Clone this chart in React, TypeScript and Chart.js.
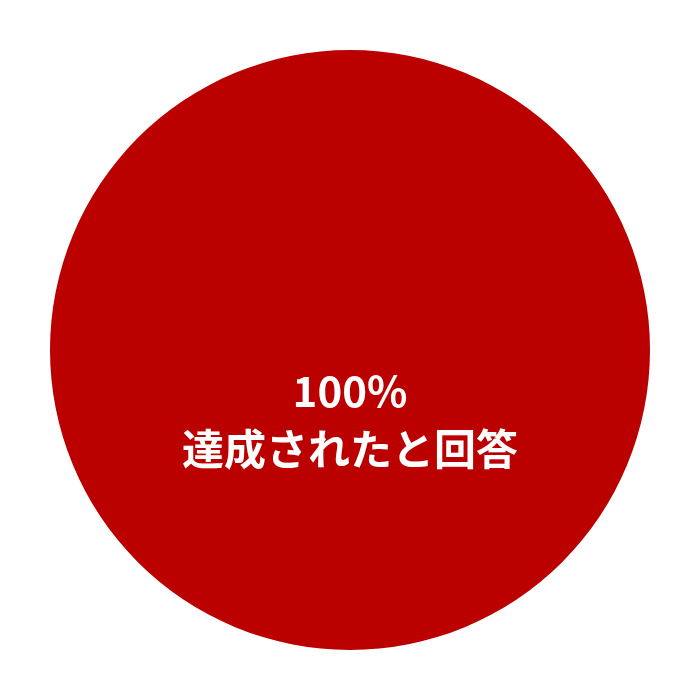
import React, { useEffect, useRef } from 'react';
import Chart from 'chart.js/auto';

const labels = ['達成されたと回答'];
const values = [100];
const colors = ['#BB0000'];
const centerLines = ['100%', '達成されたと回答'];

const centerText = {
  id: 'centerText',
  afterDatasetsDraw(chart: any) {
    const arc = chart.getDatasetMeta(0).data[0];
    if (!arc) return;
    const { ctx } = chart;
    ctx.save();
    ctx.fillStyle = '#ffffff';
    ctx.textAlign = 'center';
    ctx.textBaseline = 'middle';
    ctx.font = 'bold 42px "Noto Sans CJK JP", "Noto Sans", sans-serif';
    ctx.fillText(centerLines[0], arc.x, arc.y + 41);
    ctx.fillText(centerLines[1], arc.x, arc.y + 99);
    ctx.restore();
  }
};

export default function App() {
  const canvasRef = useRef<HTMLCanvasElement | null>(null);

  useEffect(() => {
    document.body.style.margin = '0';
    const ctx = canvasRef.current?.getContext('2d');
    if (!ctx) return;
    const chart = new Chart(ctx, {
      type: 'pie',
      data: {
        labels,
        datasets: [{ data: values, backgroundColor: colors, borderWidth: 0 }]
      },
      options: {
        responsive: true,
        maintainAspectRatio: false,
        animation: false,
        layout: { padding: 50 },
        plugins: { legend: { display: false }, tooltip: { enabled: false } }
      },
      plugins: [centerText]
    });
    return () => chart.destroy();
  }, []);

  return (
    <div style={{ width: 700, height: 700, background: '#fff' }}>
      <canvas ref={canvasRef} />
    </div>
  );
}
